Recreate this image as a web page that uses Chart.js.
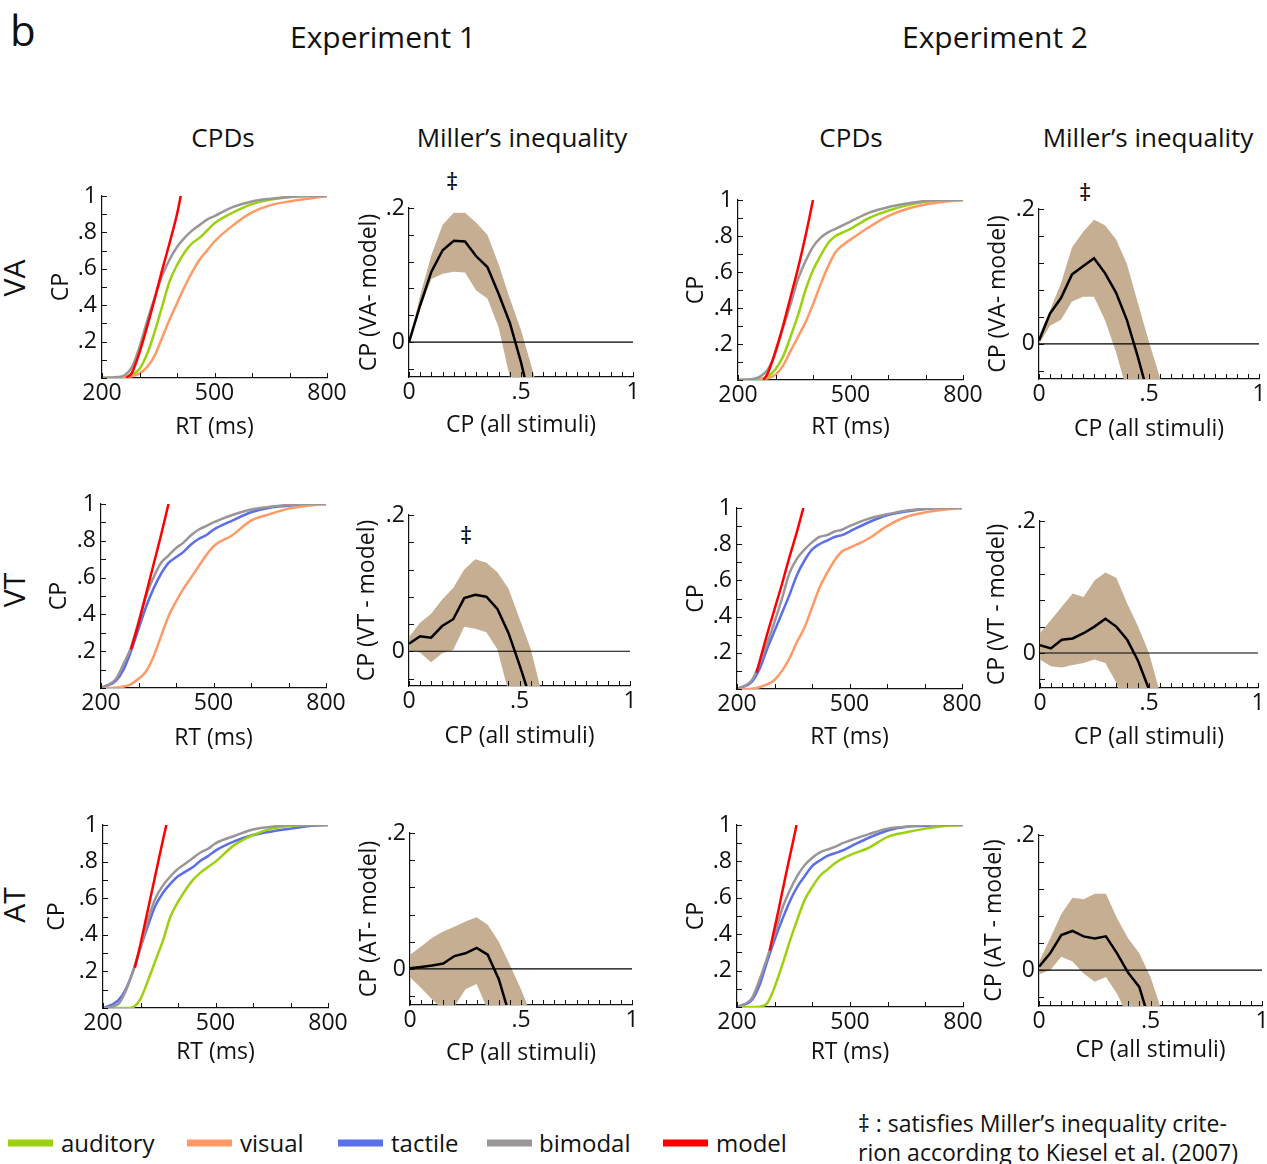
<!DOCTYPE html>
<html lang="en">
<head>
<meta charset="UTF-8" />
<title>CPDs and Miller's inequality</title>
<script src="https://cdn.jsdelivr.net/npm/chart.js@4.4.1/dist/chart.umd.min.js"></script>
<style>
  body { margin: 0; background: #fff; width: 1267px; height: 1164px; position: relative; overflow: hidden;
         font-family: 'Open Sans', sans-serif; color: #111; }
  canvas { position: absolute; }
  .t { position: absolute; transform: translate(-50%, -50%); white-space: nowrap; line-height: 1; }
  .l { position: absolute; transform: translate(0, -50%); white-space: nowrap; line-height: 1; }
  .row { position: absolute; transform: translate(-50%, -50%) rotate(-90deg); font-size: 30px; line-height: 1; }
  .sw { position: absolute; height: 7px; width: 45px; transform: translate(0, -50%); }
</style>
</head>
<body>
<div class="l" style="left:10px;top:30px;font-size:42px;">b</div>
<div class="t" style="left:383px;top:37px;font-size:30px;">Experiment 1</div>
<div class="t" style="left:995px;top:37px;font-size:30px;">Experiment 2</div>
<div class="t" style="left:223px;top:137px;font-size:26px;">CPDs</div>
<div class="t" style="left:522px;top:137px;font-size:26px;">Miller’s inequality</div>
<div class="t" style="left:851px;top:137px;font-size:26px;">CPDs</div>
<div class="t" style="left:1148px;top:137px;font-size:26px;">Miller’s inequality</div>
<div class="row" style="left:14px;top:278px;">VA</div>
<div class="row" style="left:14px;top:590px;">VT</div>
<div class="row" style="left:14px;top:905px;">AT</div>
<div class="t" style="left:452px;top:181px;font-size:24px;color:#000;">‡</div>
<div class="t" style="left:1085px;top:192px;font-size:24px;color:#000;">‡</div>
<div class="t" style="left:466px;top:535px;font-size:24px;color:#000;">‡</div>

<div id="legend"></div>
<div class="l" style="left:858px;top:1123px;font-size:23px;">‡ : satisfies Miller’s inequality crite-</div>
<div class="l" style="left:858px;top:1152px;font-size:23px;">rion according to Kiesel et al. (2007)</div>

<script>
// ---- CPD data: cumulative probability at each RT (ms) ----
const rt = [200, 240, 260, 280, 300, 320, 340, 360, 380, 400, 420, 440, 460, 480, 500, 550, 600, 650, 700, 750, 800];

// Experiment 1, VA
const e1vaBim = [0, .005, .015, .06, .17, .31, .44, .56, .65, .72, .77, .81, .84, .87, .89, .94, .97, .985, .995, 1, 1];
const e1vaAud = [0, .003, .008, .02, .05, .13, .25, .39, .53, .62, .69, .74, .77, .81, .85, .91, .955, .98, .995, 1, 1];
const e1vaVis = [0, .002, .005, .01, .025, .06, .12, .22, .32, .41, .5, .58, .65, .7, .75, .84, .91, .95, .97, .985, 1];
const e1vaModelRT = [265, 280, 300, 320, 340, 360, 380, 400, 410];
const e1vaModel = [0, .03, .14, .28, .43, .59, .74, .9, 1];

// Experiment 2, VA
const e2vaBim = [0, .005, .02, .06, .15, .29, .42, .56, .66, .74, .79, .82, .84, .86, .88, .93, .96, .98, .995, 1, 1];
const e2vaAud = [0, .002, .005, .02, .06, .13, .24, .36, .5, .61, .69, .76, .8, .82, .84, .9, .94, .97, .99, 1, 1];
const e2vaVis = [0, .002, .005, .01, .03, .08, .16, .24, .32, .42, .53, .63, .71, .75, .78, .85, .91, .95, .975, .99, 1];
const e2vaModelRT = [268, 280, 300, 320, 340, 360, 380, 400];
const e2vaModel = [0, .04, .16, .3, .46, .62, .8, 1];

// Experiment 1, VT
const e1vtBim = [0, .05, .13, .22, .36, .5, .6, .68, .72, .76, .79, .83, .86, .88, .9, .94, .97, .985, .995, 1, 1];
const e1vtTac = [0, .04, .1, .2, .32, .44, .54, .62, .68, .71, .74, .78, .81, .83, .86, .91, .955, .98, .99, 1, 1];
const e1vtVis = [0, .002, .008, .02, .05, .09, .17, .28, .39, .47, .54, .6, .66, .72, .77, .83, .91, .945, .975, .99, 1];
const e1vtModelRT = [280, 300, 320, 340, 360, 380];
const e1vtModel = [.21, .35, .51, .67, .83, 1];

// Experiment 2, VT
const e2vtBim = [0, .05, .14, .25, .37, .5, .64, .72, .77, .81, .84, .85, .87, .88, .9, .94, .965, .985, .995, 1, 1];
const e2vtTac = [0, .04, .11, .22, .32, .42, .52, .63, .71, .77, .8, .82, .84, .85, .87, .92, .96, .98, .995, 1, 1];
const e2vtVis = [0, .002, .01, .025, .05, .1, .17, .26, .34, .45, .56, .64, .71, .76, .78, .83, .9, .95, .975, .99, 1];
const e2vtModelRT = [252, 260, 280, 300, 320, 340, 360, 377];
const e2vtModel = [.09, .15, .3, .44, .58, .73, .87, 1];

// Experiment 1, AT
const e1atBim = [0, .02, .09, .2, .33, .48, .6, .67, .72, .76, .79, .82, .85, .87, .9, .94, .975, .99, 1, 1, 1];
const e1atTac = [0, .04, .1, .2, .33, .45, .56, .63, .68, .72, .745, .77, .805, .83, .86, .91, .945, .965, .98, .995, 1];
const e1atAud = [0, 0, 0, .005, .05, .15, .26, .37, .5, .58, .645, .7, .74, .77, .8, .89, .945, .98, .995, 1, 1];
const e1atModelRT = [285, 300, 320, 340, 360, 369];
const e1atModel = [.22, .35, .54, .73, .92, 1];

// Experiment 2, AT
const e2atBim = [0, .05, .15, .27, .4, .54, .64, .72, .78, .82, .85, .865, .88, .9, .915, .95, .98, .99, 1, 1, 1];
const e2atTac = [0, .04, .12, .25, .37, .48, .58, .66, .72, .775, .805, .83, .845, .86, .88, .93, .97, .99, .995, 1, 1];
const e2atAud = [0, 0, .002, .02, .11, .23, .36, .48, .59, .66, .72, .755, .79, .815, .835, .875, .935, .96, .98, .995, 1];
const e2atModelRT = [287, 290, 310, 330, 350, 358];
const e2atModel = [.31, .34, .53, .73, .92, 1];

// ---- Miller's inequality data: difference (bimodal - model) vs CP of all stimuli ----
const cpAll = [0, .05, .1, .15, .2, .25, .3, .35, .4, .45, .5, .55, .6];

const e1vaMean = [0, .055, .105, .137, .151, .15, .128, .112, .072, .029, -.03, -.1, -.17];
const e1vaUp   = [0, .07, .13, .175, .193, .193, .178, .16, .116, .065, .018, -.04, -.1];
const e1vaLo   = [0, .05, .094, .102, .105, .104, .077, .065, .022, -.052, -.12, -.2, -.28];

const e2vaMean = [.005, .045, .068, .103, .115, .127, .105, .076, .035, -.02, -.08, -.14, -.2];
const e2vaUp   = [.012, .05, .09, .143, .166, .184, .176, .155, .118, .06, .003, -.05, -.1];
const e2vaLo   = [0, .027, .036, .063, .07, .07, .035, -.012, -.07, -.13, -.19, -.25, -.3];

const e1vtMean = [.011, .022, .02, .037, .047, .078, .083, .08, .062, .027, -.02, -.07, -.12];
const e1vtUp   = [.021, .042, .055, .076, .093, .12, .135, .13, .116, .092, .048, .004, -.06];
const e1vtLo   = [.001, -.002, -.016, -.003, .002, .036, .033, .028, .003, -.06, -.12, -.18, -.24];

const e2vtMean = [.012, .007, .02, .022, .03, .04, .052, .04, .02, -.012, -.055, -.1, -.15];
const e2vtUp   = [.03, .05, .07, .09, .085, .11, .122, .114, .075, .04, 0, -.06, -.12];
const e2vtLo   = [-.01, -.02, -.022, -.018, -.015, -.01, -.015, -.045, -.09, -.14, -.19, -.24, -.29];

const e1atMean = [.001, .003, .005, .008, .019, .023, .031, .021, -.015, -.07, -.12, -.17, -.22];
const e1atUp   = [.021, .033, .046, .055, .062, .07, .076, .065, .04, .006, -.03, -.07, -.12];
const e1atLo   = [-.012, -.028, -.045, -.06, -.055, -.03, -.022, -.06, -.1, -.15, -.2, -.25, -.3];

const e2atMean = [.005, .025, .052, .058, .05, .047, .05, .025, -.004, -.025, -.08, -.14, -.2];
const e2atUp   = [.012, .047, .083, .107, .105, .113, .113, .077, .047, .025, -.01, -.06, -.12];
const e2atLo   = [-.006, 0, .02, .013, -.005, -.017, -.01, -.035, -.07, -.12, -.17, -.22, -.27];

const millerTicks = [-0.04, 0, 0.04, 0.08, 0.12, 0.16, 0.2];

const colors = {
  auditory: '#9bd10f',
  visual: '#ff9a66',
  tactile: '#5b6fe6',
  bimodal: '#9a9599',
  model: '#ff0000',
  band: '#c6ae92'
};

// legend
const legendItems = [
  ['auditory', 8, 61], ['visual', 187, 240], ['tactile', 338, 391], ['bimodal', 487, 539], ['model', 663, 716]
];
const legend = document.getElementById('legend');
legendItems.forEach(([name, sx, tx]) => {
  legend.insertAdjacentHTML('beforeend',
    `<div class="sw" style="left:${sx}px;top:1143px;background:${colors[name]}"></div>` +
    `<div class="l" style="left:${tx}px;top:1143px;font-size:24px;">${name}</div>`);
});

Chart.defaults.font.family = "'Open Sans', sans-serif";
Chart.defaults.color = '#111';

// small ticks pointing into the plot, like the original figure
const inwardTicks = {
  id: 'inwardTicks',
  afterDatasetsDraw(chart) {
    const { ctx, chartArea } = chart;
    const xs = chart.scales.x, ys = chart.scales.y;
    ctx.save();
    ctx.strokeStyle = '#111';
    ctx.lineWidth = 1;
    ctx.beginPath();
    xs.ticks.forEach(t => {
      const px = Math.round(xs.getPixelForValue(t.value)) + 0.5;
      ctx.moveTo(px, chartArea.bottom);
      ctx.lineTo(px, chartArea.bottom - 5);
    });
    ys.ticks.forEach(t => {
      const py = Math.round(ys.getPixelForValue(t.value)) + 0.5;
      ctx.moveTo(chartArea.left, py);
      ctx.lineTo(chartArea.left + 5, py);
    });
    ctx.stroke();
    ctx.restore();
  }
};

function place(box) {
  const c = document.createElement('canvas');
  const w = box.yW + (box.r - box.l) + 30;
  const h = 20 + (box.b - box.t) + box.xH;
  c.width = w; c.height = h;
  c.style.left = (box.l - box.yW) + 'px';
  c.style.top = (box.t - 20) + 'px';
  c.style.width = w + 'px';
  c.style.height = h + 'px';
  document.body.appendChild(c);
  return c;
}

const tickFont = { size: 23 };
const titleFont = { size: 23, lineHeight: 1.2 };

function axisBase(box, isX, title) {
  return {
    type: 'linear',
    border: { display: true, color: '#111', width: 1.2 },
    grid: { display: false, drawTicks: false },
    title: { display: true, text: title, font: titleFont, padding: 0 },
    afterFit: s => { if (isX) s.height = box.xH; else s.width = box.yW; }
  };
}

function pts(xs, ys) { return ys.map((v, i) => ({ x: xs[i], y: v })); }

function line(label, data, color, width) {
  return { label, data, borderColor: color, borderWidth: width, pointRadius: 0, fill: false,
           cubicInterpolationMode: 'monotone' };
}

function makeCPD(box, model, bim, other, otherName, third, thirdName) {
  const datasets = [
    line('model', pts(box.mrt, model), colors.model, 2.5),
    line('bimodal', pts(rt, bim), colors.bimodal, 2.5),
    line(otherName, pts(rt, other), colors[otherName], 2.5),
    line(thirdName, pts(rt, third), colors[thirdName], 2.5)
  ];
  new Chart(place(box), {
    type: 'line',
    data: { datasets },
    options: {
      responsive: false, animation: false,
      layout: { padding: { top: 20, right: 30, left: 0, bottom: 0 } },
      plugins: { legend: { display: false }, tooltip: { enabled: false } },
      scales: {
        x: Object.assign(axisBase(box, true, 'RT (ms)'), {
          min: 200, max: 800,
          ticks: { stepSize: 100, autoSkip: false, maxRotation: 0, padding: 2, font: tickFont, color: '#111',
                   callback: v => (v === 200 || v === 500 || v === 800) ? String(v) : '' }
        }),
        y: Object.assign(axisBase(box, false, 'CP'), {
          min: 0, max: 1,
          ticks: { stepSize: 0.1, autoSkip: false, padding: 5, font: tickFont, color: '#111',
                   callback: v => { const r = Math.round(v * 10); return (r > 0 && r % 2 === 0) ? (r === 10 ? '1' : '.' + r) : ''; } }
        })
      }
    },
    plugins: [inwardTicks]
  });
}

function makeMiller(box, mean, up, lo, ytitle) {
  const datasets = [
    { label: 'mean', data: pts(cpAll, mean), borderColor: '#000', borderWidth: 2.5, pointRadius: 0, fill: false, tension: 0 },
    { label: 'zero', data: [{ x: 0, y: 0 }, { x: 1, y: 0 }], borderColor: '#000', borderWidth: 1.2, pointRadius: 0, fill: false },
    { label: 'upper', data: pts(cpAll, up), borderWidth: 0, borderColor: 'rgba(0,0,0,0)', pointRadius: 0,
      backgroundColor: colors.band, fill: '+1', tension: 0 },
    { label: 'lower', data: pts(cpAll, lo), borderWidth: 0, borderColor: 'rgba(0,0,0,0)', pointRadius: 0, fill: false, tension: 0 }
  ];
  new Chart(place(box), {
    type: 'line',
    data: { datasets },
    options: {
      responsive: false, animation: false,
      layout: { padding: { top: 20, right: 30, left: 0, bottom: 0 } },
      plugins: { legend: { display: false }, tooltip: { enabled: false } },
      scales: {
        x: Object.assign(axisBase(box, true, 'CP (all stimuli)'), {
          min: 0, max: 1,
          ticks: { stepSize: 0.05, autoSkip: false, maxRotation: 0, padding: 2, font: tickFont, color: '#111',
                   callback: v => { const r = Math.round(v * 20); return r === 0 ? '0' : r === 10 ? '.5' : r === 20 ? '1' : ''; } }
        }),
        y: Object.assign(axisBase(box, false, ytitle), {
          min: box.ymin, max: 0.2,
          afterBuildTicks: s => { s.ticks = millerTicks.map(v => ({ value: v })); },
          ticks: { autoSkip: false, padding: 4, font: tickFont, color: '#111',
                   callback: v => Math.abs(v) < 1e-9 ? '0' : Math.abs(v - 0.2) < 1e-9 ? '.2' : '' }
        })
      }
    },
    plugins: [inwardTicks]
  });
}

// panels: plot-area edges in page pixels
makeCPD({ l: 102, t: 196, r: 327, b: 378, yW: 54, xH: 63, mrt: e1vaModelRT }, e1vaModel, e1vaBim, e1vaVis, 'visual', e1vaAud, 'auditory');
makeMiller({ l: 409, t: 208, r: 633, b: 377, yW: 53, xH: 62, ymin: -0.052 }, e1vaMean, e1vaUp, e1vaLo, 'CP (VA- model)');
makeCPD({ l: 738, t: 200, r: 963, b: 380, yW: 55, xH: 61, mrt: e2vaModelRT }, e2vaModel, e2vaBim, e2vaVis, 'visual', e2vaAud, 'auditory');
makeMiller({ l: 1039, t: 209, r: 1259, b: 379, yW: 54, xH: 64, ymin: -0.052 }, e2vaMean, e2vaUp, e2vaLo, 'CP (VA- model)');

makeCPD({ l: 101, t: 504, r: 326, b: 688, yW: 55, xH: 64, mrt: e1vtModelRT }, e1vtModel, e1vtBim, e1vtVis, 'visual', e1vtTac, 'tactile');
makeMiller({ l: 409, t: 515, r: 630, b: 686, yW: 55, xH: 64, ymin: -0.051 }, e1vtMean, e1vtUp, e1vtLo, 'CP (VT - model)');
makeCPD({ l: 737, t: 508, r: 962, b: 689, yW: 54, xH: 62, mrt: e2vtModelRT }, e2vtModel, e2vtBim, e2vtVis, 'visual', e2vtTac, 'tactile');
makeMiller({ l: 1040, t: 521, r: 1258, b: 688, yW: 56, xH: 63, ymin: -0.053 }, e2vtMean, e2vtUp, e2vtLo, 'CP (VT - model)');

makeCPD({ l: 103, t: 825, r: 328, b: 1008, yW: 59, xH: 58, mrt: e1atModelRT }, e1atModel, e1atBim, e1atAud, 'auditory', e1atTac, 'tactile');
makeMiller({ l: 410, t: 833, r: 632, b: 1005, yW: 54, xH: 62, ymin: -0.053 }, e1atMean, e1atUp, e1atLo, 'CP (AT- model)');
makeCPD({ l: 737, t: 825, r: 963, b: 1007, yW: 54, xH: 59, mrt: e2atModelRT }, e2atModel, e2atBim, e2atAud, 'auditory', e2atTac, 'tactile');
makeMiller({ l: 1039, t: 835, r: 1262, b: 1006, yW: 58, xH: 58, ymin: -0.053 }, e2atMean, e2atUp, e2atLo, 'CP (AT - model)');
</script>
</body>
</html>
